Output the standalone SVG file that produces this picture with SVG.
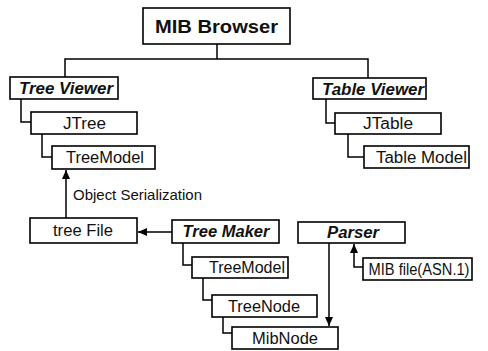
<svg xmlns="http://www.w3.org/2000/svg" width="488" height="351" viewBox="0 0 488 351">
<style>
.b{fill:#fff;stroke:#000;stroke-width:1.6}
.t{font-family:"Liberation Sans",Arial,sans-serif;font-size:16px;fill:#111;text-anchor:middle}
.h{font-weight:bold;font-style:italic}
.c{fill:none;stroke:#000;stroke-width:1.5}
</style>
<defs>
<marker id="a" markerUnits="userSpaceOnUse" markerWidth="10" markerHeight="10" viewBox="0 0 10 10" refX="9" refY="5" orient="auto">
<path d="M0,1 L9,5 L0,9 Z" fill="#000"/>
</marker>
</defs>
<rect width="488" height="351" fill="#fff"/>
<g id="connectors">
<path class="c" d="M217,44 V59"/>
<path class="c" d="M65,77 V59 H368 V78"/>
<path class="c" d="M21,99 V122 H31"/>
<path class="c" d="M42,134 V157 H52"/>
<path class="c" d="M326,99 V123 H335"/>
<path class="c" d="M348,134 V157 H364"/>
<path class="c" d="M66,218 V170" marker-end="url(#a)"/>
<path class="c" d="M172,232 H138" marker-end="url(#a)"/>
<path class="c" d="M183,243 V265 H192"/>
<path class="c" d="M203,278 V300 H212"/>
<path class="c" d="M223,317 V333 H232"/>
<path class="c" d="M329,243 V326" marker-end="url(#a)"/>
<path class="c" d="M363,267 H354 V244" marker-end="url(#a)"/>
<text class="t" x="73" y="200" style="text-anchor:start;font-size:15px" textLength="129" lengthAdjust="spacingAndGlyphs">Object Serialization</text>
</g>
<g id="mib-browser"><rect class="b" x="143" y="8" width="147" height="36"/><text class="t" x="216.5" y="32.5" style="font-weight:bold;font-size:19px" textLength="123" lengthAdjust="spacingAndGlyphs">MIB Browser</text></g>
<g id="tree-viewer"><rect class="b" x="10" y="77" width="108" height="22"/><text class="t h" x="66" y="94" textLength="94" lengthAdjust="spacingAndGlyphs">Tree Viewer</text></g>
<g id="jtree"><rect class="b" x="31" y="112" width="106" height="22"/><text class="t" x="84.5" y="128.5" textLength="43" lengthAdjust="spacingAndGlyphs">JTree</text></g>
<g id="treemodel1"><rect class="b" x="52" y="146" width="103" height="23"/><text class="t" x="105" y="163" textLength="78" lengthAdjust="spacingAndGlyphs">TreeModel</text></g>
<g id="table-viewer"><rect class="b" x="313" y="78" width="113" height="21"/><text class="t h" x="373" y="94.5" textLength="102" lengthAdjust="spacingAndGlyphs">Table Viewer</text></g>
<g id="jtable"><rect class="b" x="335" y="113" width="106" height="21"/><text class="t" x="388" y="129" textLength="50" lengthAdjust="spacingAndGlyphs">JTable</text></g>
<g id="table-model"><rect class="b" x="364" y="146" width="105" height="22"/><text class="t" x="421.5" y="162.5" textLength="91" lengthAdjust="spacingAndGlyphs">Table Model</text></g>
<g id="tree-file"><rect class="b" x="30" y="218" width="107" height="25"/><text class="t" x="83" y="236" textLength="60" lengthAdjust="spacingAndGlyphs">tree File</text></g>
<g id="tree-maker"><rect class="b" x="172" y="220" width="107" height="23"/><text class="t h" x="226" y="237" textLength="87" lengthAdjust="spacingAndGlyphs">Tree Maker</text></g>
<g id="treemodel2"><rect class="b" x="192" y="257" width="96" height="21"/><text class="t" x="247" y="273" textLength="76" lengthAdjust="spacingAndGlyphs">TreeModel</text></g>
<g id="treenode"><rect class="b" x="212" y="295" width="105" height="22"/><text class="t" x="264" y="311.5" textLength="72" lengthAdjust="spacingAndGlyphs">TreeNode</text></g>
<g id="mibnode"><rect class="b" x="232" y="327" width="106" height="22"/><text class="t" x="285" y="343.5" textLength="66" lengthAdjust="spacingAndGlyphs">MibNode</text></g>
<g id="parser"><rect class="b" x="298" y="222" width="107" height="21"/><text class="t h" x="353" y="238" textLength="52" lengthAdjust="spacingAndGlyphs">Parser</text></g>
<g id="mib-file"><rect class="b" x="363" y="258" width="109" height="22"/><text class="t" x="419" y="274.5" textLength="101" lengthAdjust="spacingAndGlyphs">MIB file(ASN.1)</text></g>
</svg>
